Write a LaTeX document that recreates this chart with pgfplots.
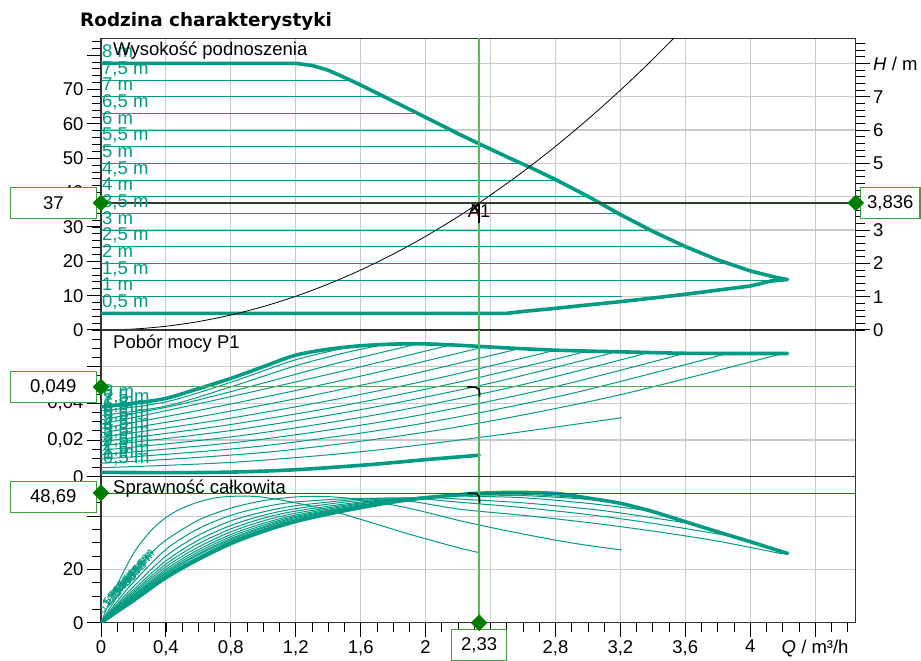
\documentclass[border=0pt]{standalone}
\usepackage{fontspec}
\setmainfont{Liberation Sans}
\newfontfamily\titlefont{DejaVu Sans}
\usepackage{pgfplots}
\pgfplotsset{compat=1.18}
\definecolor{teal1}{RGB}{0,155,130}
\definecolor{mkgreen}{RGB}{0,125,0}
\definecolor{boxgreen}{RGB}{60,160,60}
\definecolor{lgreen}{RGB}{85,175,85}
\definecolor{vgreen}{RGB}{90,185,90}
\definecolor{dgreen}{RGB}{20,120,20}
\definecolor{dark37}{RGB}{45,65,45}
\definecolor{gridgray}{RGB}{202,202,202}
\newcommand\myfs{\fontsize{18.5pt}{21pt}\selectfont}
\pgfplotsset{
 panel/.style={
   scale only axis, width=754.7pt, xmin=0, xmax=4.65,
   anchor=south west,
   axis line style={black!80, line width=1.4pt},
   tick align=outside, major tick length=14pt, minor tick length=9pt,
   major tick style={black, line width=1pt},
   minor tick style={black, line width=0.8pt},
   tick label style={font=\myfs},
   grid style={gridgray, line width=1.1pt},
   scaled ticks=false,
 },
 nox/.style={xtick={0,0.4,0.8,1.2,1.6,2,2.4,2.8,3.2,3.6,4,4.4},
   xticklabels={{},{},{},{},{},{},{},{},{},{},{},{}}, xtick style={draw=none}},
 ov/.style={scale only axis, width=754.7pt, xmin=0, xmax=4.65, anchor=south west, hide axis, clip=false},
}
\tikzset{
 tln/.style={teal1, line width=1pt},
 tlnS/.style={teal1, line width=1pt, smooth},
 tk/.style={teal1, line width=3.6pt, line join=round, line cap=round},
 lab/.style={teal1, anchor=base west, inner sep=0pt, font=\myfs},
 eml/.style={teal1, inner sep=0pt, font=\fontsize{12pt}{13pt}\selectfont, rotate=55},
 vbox/.style={draw=boxgreen, fill=white, line width=1.2pt, inner sep=0pt, minimum height=31pt, font=\myfs},
}
\begin{document}
\begin{tikzpicture}
\useasboundingbox (0,0) rectangle (921pt,661pt);
% ---------- TOP PANEL: right H axis with grid ----------
\begin{axis}[panel, nox, at={(101pt,331pt)}, height=291.7pt, ymin=0, ymax=8.753,
  ytick={0,1,2,3,4,5,6,7,8}, yticklabels={0,1,2,3,4,5,6,7,{\textit{H} / m}},
  minor ytick={0,0.2,...,8.7}, ytick pos=right,
  grid=major]
\end{axis}
% ---------- TOP PANEL: left kPa axis with plots ----------
\begin{axis}[panel, at={(101pt,331pt)}, height=291.7pt, ymin=0, ymax=84.9,
  ytick={0,10,20,30,40,50,60,70,80}, yticklabels={0,10,20,30,40,50,60,70,{}},
  minor ytick={0,2,...,84}, ytick pos=left, xtick=\empty]
\addplot[tln] coordinates {(0,9.7)(3.21,9.7)};
\addplot[tln] coordinates {(0,14.55)(4.2,14.55)};
\addplot[tln] coordinates {(0,19.4)(3.86,19.4)};
\addplot[tln] coordinates {(0,24.25)(3.6,24.25)};
\addplot[tln] coordinates {(0,29.1)(3.38,29.1)};
\addplot[tln] coordinates {(0,33.95)(3.18,33.95)};
\addplot[tln] coordinates {(0,38.8)(3.0,38.8)};
\addplot[tln] coordinates {(0,43.65)(2.8,43.65)};
\addplot[tln] coordinates {(0,48.5)(2.58,48.5)};
\addplot[tln] coordinates {(0,53.35)(2.367,53.35)};
\addplot[tln] coordinates {(0,58.2)(2.155,58.2)};
\addplot[tln] coordinates {(0,63.05)(1.951,63.05)};
\addplot[tln] coordinates {(0,67.9)(1.745,67.9)};
\addplot[tln] coordinates {(0,72.75)(1.534,72.75)};
\addplot[tk] coordinates {(0,77.6)(1.2,77.6)(1.3,77.0)(1.4,75.6)(1.5,73.5)(1.6,71.3)(1.8,66.6)(2.0,61.9)(2.21,56.9)(2.33,54.2)(2.5,50.4)(2.65,47.2)(2.8,43.8)(3.0,38.9)(3.2,33.6)(3.4,28.7)(3.6,24.3)(3.8,20.4)(4.0,17.2)(4.1,16.0)(4.17,15.2)(4.23,14.7)(4.13,14.25)(4.0,12.8)(3.8,11.6)(3.6,10.4)(3.4,9.3)(3.2,8.25)(3.0,7.3)(2.8,6.3)(2.6,5.4)(2.5,4.85)(0,4.85)};
\addplot[black, line width=0.8pt, smooth] coordinates {(0,0)(0.2,0.273)(0.4,1.09)(0.6,2.45)(0.8,4.36)(1.0,6.82)(1.2,9.81)(1.4,13.36)(1.6,17.45)(1.8,22.08)(2.0,27.26)(2.2,32.99)(2.33,37.0)(2.4,39.26)(2.6,46.07)(2.8,53.43)(3.0,61.34)(3.2,69.79)(3.4,78.79)(3.6,88.33)};
\addplot[color=vgreen, line width=1.5pt] coordinates {(2.33,0)(2.33,84.9)};
\addplot[dark37, line width=2.2pt] coordinates {(0,37)(4.65,37)};
\addplot[black, line width=1.6pt] coordinates {(2.33,37)(2.33,31.2)};
\addplot[black, only marks, mark=x, mark size=4.5pt, mark options={line width=1.6pt}] coordinates {(2.305,35.6)};
\node[anchor=north, inner sep=0pt, font=\myfs] at (axis cs:2.33,36.4) {A1};
\node[lab] at ([xshift=1pt,yshift=6pt]axis cs:0,4.85) {0,5 m};
\node[lab] at ([xshift=1pt,yshift=6pt]axis cs:0,9.7) {1 m};
\node[lab] at ([xshift=1pt,yshift=6pt]axis cs:0,14.55) {1,5 m};
\node[lab] at ([xshift=1pt,yshift=6pt]axis cs:0,19.4) {2 m};
\node[lab] at ([xshift=1pt,yshift=6pt]axis cs:0,24.25) {2,5 m};
\node[lab] at ([xshift=1pt,yshift=6pt]axis cs:0,29.1) {3 m};
\node[lab] at ([xshift=1pt,yshift=6pt]axis cs:0,33.95) {3,5 m};
\node[lab] at ([xshift=1pt,yshift=6pt]axis cs:0,38.8) {4 m};
\node[lab] at ([xshift=1pt,yshift=6pt]axis cs:0,43.65) {4,5 m};
\node[lab] at ([xshift=1pt,yshift=6pt]axis cs:0,48.5) {5 m};
\node[lab] at ([xshift=1pt,yshift=6pt]axis cs:0,53.35) {5,5 m};
\node[lab] at ([xshift=1pt,yshift=6pt]axis cs:0,58.2) {6 m};
\node[lab] at ([xshift=1pt,yshift=6pt]axis cs:0,63.05) {6,5 m};
\node[lab] at ([xshift=1pt,yshift=6pt]axis cs:0,67.9) {7 m};
\node[lab] at ([xshift=1pt,yshift=6pt]axis cs:0,72.75) {7,5 m};
\node[lab] at ([xshift=1pt,yshift=6pt]axis cs:0,77.6) {8 m};
\node[anchor=base west, inner sep=0pt, font=\myfs] at ([xshift=12pt,yshift=-17.7pt]rel axis cs:0,1) {Wysokość podnoszenia};
\node[anchor=east, inner sep=0pt, font=\myfs] at ([xshift=-19pt]axis cs:0,78.5) {\textit{Δp}\hspace{5pt} / kPa};
\coordinate (p37) at (axis cs:0,37);
\coordinate (p37r) at (axis cs:4.65,37);
\end{axis}
% ---------- MIDDLE PANEL ----------
\begin{axis}[panel, nox, at={(101pt,184.3pt)}, height=146.7pt, ymin=0, ymax=0.08,
  ytick={0,0.02,0.04,0.06}, yticklabels={0,{0,02},{0,04},{}},
  minor ytick={0,0.005,...,0.08}, ytick pos=left,
  grid=major]
\addplot[tlnS] coordinates {(0,0.0049)(0.8,0.0078)(1.6,0.0136)(2.4,0.0222)(3.21,0.0322)};
\addplot[tlnS] coordinates {(0,0.0073)(1.05,0.0136)(2.1,0.0257)(3.15,0.0437)(4.2,0.0672)};
\addplot[tlnS] coordinates {(0,0.0096)(0.965,0.0165)(1.93,0.0283)(2.895,0.0453)(3.86,0.0672)};
\addplot[tlnS] coordinates {(0,0.0120)(0.9,0.0194)(1.8,0.0310)(2.7,0.0470)(3.6,0.0673)};
\addplot[tlnS] coordinates {(0,0.0144)(0.845,0.0222)(1.69,0.0337)(2.535,0.0489)(3.38,0.0678)};
\addplot[tlnS] coordinates {(0,0.0168)(0.795,0.0251)(1.59,0.0364)(2.385,0.0507)(3.18,0.0682)};
\addplot[tlnS] coordinates {(0,0.0191)(0.75,0.0278)(1.5,0.0389)(2.25,0.0525)(3.0,0.0685)};
\addplot[tlnS] coordinates {(0,0.0215)(0.7,0.0305)(1.4,0.0414)(2.1,0.0542)(2.8,0.0690)};
\addplot[tlnS] coordinates {(0,0.0239)(0.645,0.0333)(1.29,0.0441)(1.935,0.0563)(2.58,0.0699)};
\addplot[tlnS] coordinates {(0,0.0263)(0.592,0.0360)(1.1835,0.0467)(1.775,0.0584)(2.367,0.0709)};
\addplot[tlnS] coordinates {(0,0.0286)(0.539,0.0386)(1.0775,0.0492)(1.616,0.0603)(2.155,0.0719)};
\addplot[tlnS] coordinates {(0,0.0310)(0.488,0.0395)(0.976,0.0505)(1.463,0.0621)(1.951,0.0724)};
\addplot[tlnS] coordinates {(0,0.0334)(0.4,0.0385)(0.8,0.0490)(1.2,0.0605)(1.5,0.0675)(1.745,0.0721)};
\addplot[tlnS] coordinates {(0,0.0358)(0.4,0.0408)(0.8,0.0515)(1.2,0.0638)(1.534,0.0708)};
\addplot[tk, smooth] coordinates {(0,0.0381)(0.2,0.0400)(0.4,0.0427)(0.6,0.0480)(0.8,0.0536)(1.0,0.0600)(1.2,0.0663)(1.4,0.0695)(1.6,0.0714)(1.8,0.0723)(2.0,0.0724)(2.2,0.0717)(2.4,0.0707)(2.6,0.0698)(2.8,0.0690)(3.0,0.0685)(3.2,0.0681)(3.6,0.0673)(4.0,0.0672)(4.23,0.0672)};
\addplot[tk, smooth] coordinates {(0,0.0024)(0.4,0.0022)(0.8,0.0025)(1.2,0.0038)(1.6,0.0062)(1.84,0.0080)(2.0,0.0093)(2.33,0.0117)};
\addplot[lgreen, line width=1pt] coordinates {(0,0.049)(4.65,0.049)};
\addplot[color=vgreen, line width=1.5pt] coordinates {(2.33,0)(2.33,0.08)};
\addplot[black, line width=1.6pt] coordinates {(2.255,0.0490)(2.305,0.0488)(2.328,0.0478)(2.332,0.0460)(2.332,0.0436)};
\node[lab] at ([xshift=2pt,yshift=9pt]axis cs:0,0.0024) {0,5 m};
\node[lab] at ([xshift=2pt,yshift=9pt]axis cs:0,0.0049) {1 m};
\node[lab] at ([xshift=2pt,yshift=9pt]axis cs:0,0.0073) {1,5 m};
\node[lab] at ([xshift=2pt,yshift=9pt]axis cs:0,0.0096) {2 m};
\node[lab] at ([xshift=2pt,yshift=9pt]axis cs:0,0.0120) {2,5 m};
\node[lab] at ([xshift=2pt,yshift=9pt]axis cs:0,0.0144) {3 m};
\node[lab] at ([xshift=2pt,yshift=9pt]axis cs:0,0.0168) {3,5 m};
\node[lab] at ([xshift=2pt,yshift=9pt]axis cs:0,0.0191) {4 m};
\node[lab] at ([xshift=2pt,yshift=9pt]axis cs:0,0.0215) {4,5 m};
\node[lab] at ([xshift=2pt,yshift=9pt]axis cs:0,0.0239) {5 m};
\node[lab] at ([xshift=2pt,yshift=9pt]axis cs:0,0.0263) {5,5 m};
\node[lab] at ([xshift=2pt,yshift=9pt]axis cs:0,0.0286) {6 m};
\node[lab] at ([xshift=2pt,yshift=9pt]axis cs:0,0.0310) {6,5 m};
\node[lab] at ([xshift=2pt,yshift=9pt]axis cs:0,0.0334) {7 m};
\node[lab] at ([xshift=2pt,yshift=9pt]axis cs:0,0.0358) {7,5 m};
\node[lab] at ([xshift=2pt,yshift=9pt]axis cs:0,0.0381) {8 m};
\node[anchor=base west, inner sep=0pt, font=\myfs] at ([xshift=12pt,yshift=-18pt]rel axis cs:0,1) {Pobór mocy P1};
\node[anchor=east, inner sep=0pt, font=\myfs] at ([xshift=-19pt]axis cs:0,0.069) {\textit{P}\raisebox{-2pt}{\fontsize{10pt}{10pt}\selectfont 1} / kW};
\coordinate (p049) at (axis cs:0,0.049);
\end{axis}
% ---------- BOTTOM PANEL ----------
\begin{axis}[panel, at={(101pt,38.3pt)}, height=146pt, ymin=0, ymax=54.8,
  ytick={0,20,40}, yticklabels={0,20,{}}, minor ytick={0,5,...,50}, ytick pos=left,
  xtick={0,0.4,0.8,1.2,1.6,2,2.4,2.8,3.2,3.6,4,4.4},
  xticklabels={0,{0,4},{0,8},{1,2},{1,6},2,{2,4},{2,8},{3,2},{3,6},4,{\textit{Q} / m³/h}},
  minor xtick={0,0.1,...,4.65}, xtick pos=bottom,
  grid=major]
\addplot[tlnS] coordinates {(0,0)(0.05,7.5)(0.1,14.3)(0.2,26)(0.3,34)(0.4,39.5)(0.5,43)(0.6,45.3)(0.7,46.8)(0.8,47.4)(0.9,47.5)(1.0,47.1)(1.2,45)(1.43,41.8)(1.6,38.8)(1.84,34.3)(2.0,31.5)(2.21,28)(2.33,26.3)};
\addplot[tlnS] coordinates {(0,0)(0.05,5)(0.1,9.8)(0.2,18.5)(0.3,25.5)(0.4,31)(0.6,38.5)(0.8,43)(1.0,45.8)(1.2,47.2)(1.4,47.3)(1.6,46.2)(1.84,43.7)(2.0,41.5)(2.21,38.3)(2.5,34.5)(2.8,31)(3.0,29)(3.21,27.3)};
\addplot[tlnS] coordinates {(0,0)(0.1,8.0)(0.2,15.2)(0.4,27.5)(0.6,35.3)(0.8,40.3)(1.0,43.4)(1.2,45.3)(1.6,46.7)(1.9,45.6)(2.21,42.6)(2.6,40.3)(3.0,37.6)(3.4,34.4)(3.8,30.6)(4.2,25.8)};
\addplot[tlnS] coordinates {(0,0)(0.1,7.0)(0.2,13.5)(0.4,25)(0.6,32.8)(0.8,38.2)(1.0,41.6)(1.2,43.9)(1.6,46.4)(1.9,46.8)(2.21,45.2)(2.6,43.2)(3.0,40.6)(3.4,37.3)(3.86,32.7)};
\addplot[tlnS] coordinates {(0,0)(0.1,6.4)(0.2,12.4)(0.4,23.2)(0.6,31)(0.8,36.5)(1.0,40.3)(1.2,42.8)(1.6,45.9)(2.0,46.9)(2.21,46.4)(2.6,45)(3.0,42.7)(3.2,41.2)(3.6,37.5)};
\addplot[tlnS] coordinates {(0,0)(0.1,6.0)(0.2,11.6)(0.4,22)(0.6,29.6)(0.8,35.2)(1.0,39.2)(1.2,41.9)(1.6,45.3)(2.0,47.2)(2.21,47.5)(2.6,46.9)(3.0,44.8)(3.38,42)};
\addplot[tlnS] coordinates {(0,0)(0.1,5.6)(0.2,11.0)(0.4,21)(0.6,28.4)(0.8,34.1)(1.0,38.2)(1.2,41.1)(1.6,44.9)(2.0,47.3)(2.21,47.8)(2.6,47.7)(3.0,46.3)(3.18,45.0)};
\addplot[tlnS] coordinates {(0,0)(0.1,5.3)(0.2,10.4)(0.4,20.1)(0.6,27.4)(0.8,33.1)(1.0,37.3)(1.2,40.4)(1.6,44.6)(2.0,47.2)(2.3,48.1)(2.6,48.2)(3.0,46.8)};
\addplot[tlnS] coordinates {(0,0)(0.1,5.0)(0.2,10.0)(0.4,19.4)(0.6,26.6)(0.8,32.3)(1.0,36.6)(1.2,39.9)(1.6,44.2)(2.0,47.1)(2.3,48.2)(2.6,48.6)(2.8,48.5)};
\addplot[tlnS] coordinates {(0,0)(0.1,4.9)(0.2,9.7)(0.4,18.8)(0.6,25.9)(0.8,31.6)(1.0,36.0)(1.2,39.5)(1.6,44)(2.0,47)(2.3,48.3)(2.58,48.9)};
\addplot[tlnS] coordinates {(0,0)(0.1,4.7)(0.2,9.4)(0.4,18.3)(0.6,25.4)(0.8,31.1)(1.0,35.6)(1.2,39.1)(1.6,43.8)(2.0,46.9)(2.367,48.7)};
\addplot[tlnS] coordinates {(0,0)(0.1,4.5)(0.2,8.9)(0.4,17.8)(0.6,24.7)(0.8,30.6)(1.0,35.1)(1.2,38.7)(1.6,43.6)(2.0,46.8)(2.155,47.7)};
\addplot[tlnS] coordinates {(0,0)(0.1,4.4)(0.2,8.75)(0.4,17.5)(0.6,24.4)(0.8,30.3)(1.0,34.9)(1.2,38.5)(1.6,43.4)(1.951,46.5)};
\addplot[tlnS] coordinates {(0,0)(0.1,4.35)(0.2,8.6)(0.4,17.3)(0.6,24.2)(0.8,30.1)(1.0,34.7)(1.2,38.4)(1.5,42.4)(1.745,44.9)};
\addplot[tlnS] coordinates {(0,0)(0.1,4.3)(0.2,8.5)(0.4,17.1)(0.6,24.0)(0.8,29.9)(1.0,34.5)(1.2,38.2)(1.534,42.2)};
\addplot[tk, smooth] coordinates {(0,0)(0.1,4.2)(0.2,8.3)(0.4,16.9)(0.6,23.8)(0.8,29.7)(1.0,34.3)(1.2,38.0)(1.4,40.8)(1.6,43.2)(1.8,45.3)(2.0,46.9)(2.2,48.0)(2.33,48.6)(2.55,48.9)(2.8,48.5)(3.0,46.8)(3.2,44.8)(3.4,41.7)(3.6,37.9)(3.8,34.1)(4.0,30.4)(4.23,26.0)};
\addplot[dgreen, line width=0.9pt] coordinates {(0,48.69)(4.65,48.69)};
\addplot[color=vgreen, line width=1.5pt] coordinates {(2.33,0)(2.33,54.8)};
\addplot[black, line width=1.6pt] coordinates {(2.26,48.6)(2.31,48.5)(2.328,47.6)(2.332,46.5)(2.332,44.8)};
\node[eml] at (axis cs:0.05,8.5) {0,5 m};
\node[eml] at (axis cs:0.065,9.5) {1 m};
\node[eml] at (axis cs:0.08,10.5) {1,5 m};
\node[eml] at (axis cs:0.095,11.5) {2 m};
\node[eml] at (axis cs:0.11,12.5) {2,5 m};
\node[eml] at (axis cs:0.125,13.5) {3 m};
\node[eml] at (axis cs:0.14,14.5) {3,5 m};
\node[eml] at (axis cs:0.155,15.5) {4 m};
\node[eml] at (axis cs:0.17,16.5) {4,5 m};
\node[eml] at (axis cs:0.185,17.5) {5 m};
\node[eml] at (axis cs:0.2,18.5) {5,5 m};
\node[eml] at (axis cs:0.215,19.5) {6 m};
\node[eml] at (axis cs:0.23,20.5) {6,5 m};
\node[eml] at (axis cs:0.245,21.5) {7 m};
\node[eml] at (axis cs:0.26,22.5) {7,5 m};
\node[eml] at (axis cs:0.275,23.5) {8 m};
\node[anchor=base west, inner sep=0pt, font=\myfs] at ([xshift=12pt,yshift=-16.6pt]rel axis cs:0,1) {Sprawność całkowita};
\coordinate (p4869) at (axis cs:0,48.69);
\coordinate (p233) at (axis cs:2.33,0);
\end{axis}
% ---------- value boxes ----------
\node[vbox, minimum width=85.5pt, anchor=east] at ([xshift=-4.3pt]p37) {37};
\node[vbox, minimum width=85.5pt, anchor=east] at ([xshift=-4.3pt]p049) {0,049};
\node[vbox, minimum width=85.5pt, anchor=east] at ([xshift=-4.3pt,yshift=-3.8pt]p4869) {48,69};
\node[vbox, minimum width=59.5pt, anchor=west] at ([xshift=4.2pt]p37r) {3,836};
\node[vbox, minimum width=54.6pt, anchor=north] at ([yshift=-6.2pt]p233) {2,33};
% ---------- diamonds on top ----------
\begin{axis}[ov, at={(101pt,331pt)}, height=291.7pt, ymin=0, ymax=84.9]
\addplot[only marks, mark=diamond*, mark size=8pt, mkgreen, mark options={xscale=1.33}] coordinates {(0,37)(4.65,37)};
\end{axis}
\begin{axis}[ov, at={(101pt,184.3pt)}, height=146.7pt, ymin=0, ymax=0.08]
\addplot[only marks, mark=diamond*, mark size=8pt, mkgreen, mark options={xscale=1.33}] coordinates {(0,0.049)};
\end{axis}
\begin{axis}[ov, at={(101pt,38.3pt)}, height=146pt, ymin=0, ymax=54.8]
\addplot[only marks, mark=diamond*, mark size=8pt, mkgreen, mark options={xscale=1.33}] coordinates {(0,48.69)(2.33,0)};
\end{axis}
% ---------- title ----------
\node[anchor=base west, inner sep=0pt, font=\titlefont\bfseries\fontsize{18.4pt}{21pt}\selectfont] at (80pt,634.3pt) {Rodzina charakterystyki};
\end{tikzpicture}
\end{document}
